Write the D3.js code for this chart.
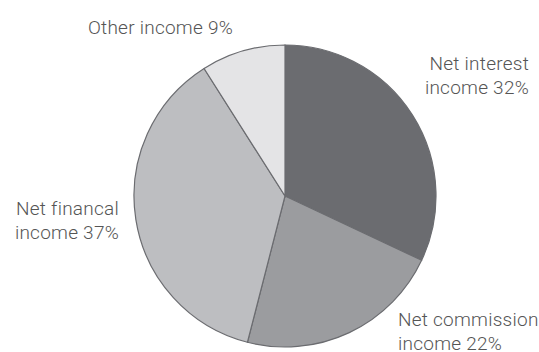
<!DOCTYPE html>
<html>
<head>
<meta charset="utf-8">
<script src="https://cdn.jsdelivr.net/npm/d3@7"></script>
<style>
  body { margin: 0; background: #fff; }
  text { font-family: Roboto, sans-serif; font-weight: 300; font-size: 19px; letter-spacing: 0.25px; fill: #555; }
</style>
</head>
<body>
<svg id="chart" width="539" height="352"></svg>
<script>
const categories = ['Net interest income', 'Net commission income', 'Net financal income', 'Other income'];
const values = [32, 22, 37, 9];
const colors = ['#6b6c70', '#9b9c9f', '#bdbec1', '#e4e4e6'];
// label lines for each slice
const labelLines = [
  ['Net interest', 'income 32%'],
  ['Net commission', 'income 22%'],
  ['Net financal', 'income 37%'],
  ['Other income 9%']
];
const labelPos = [
  { x: 529, y: 70, anchor: 'end' },
  { x: 398, y: 326, anchor: 'start' },
  { x: 119, y: 215, anchor: 'end' },
  { x: 233, y: 34, anchor: 'end' }
];

const svg = d3.select('#chart');
const cx = 285, cy = 196, r = 151;

const data = categories.map((c, i) => ({ name: c, value: values[i] }));

const pie = d3.pie().sort(null).value(d => d.value);
const arc = d3.arc().innerRadius(0).outerRadius(r);

const g = svg.append('g')
  .attr('transform', 'translate(' + cx + ',' + cy + ')');

g.selectAll('path')
  .data(pie(data))
  .enter().append('path')
  .attr('d', arc)
  .attr('fill', (d, i) => colors[i])
  .attr('stroke', '#6b6c70')
  .attr('stroke-width', 1.2);

labelLines.forEach((lines, i) => {
  const t = svg.append('text')
    .attr('x', labelPos[i].x)
    .attr('y', labelPos[i].y)
    .attr('text-anchor', labelPos[i].anchor);
  lines.forEach((line, j) => {
    t.append('tspan')
      .attr('x', labelPos[i].x)
      .attr('dy', j === 0 ? 0 : 24)
      .text(line);
  });
});
</script>
</body>
</html>
